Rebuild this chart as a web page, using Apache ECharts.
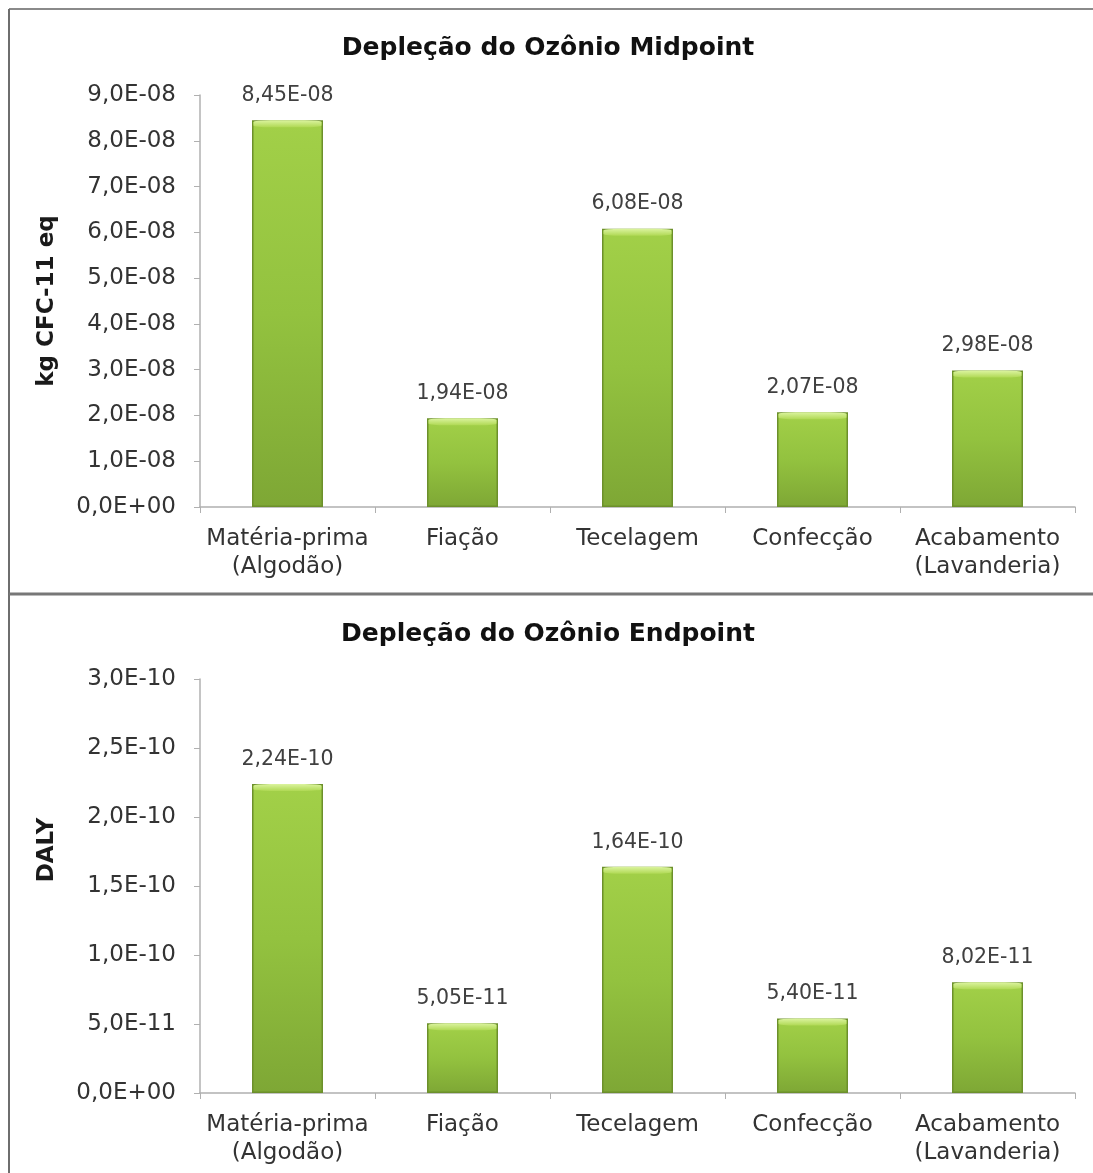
<!DOCTYPE html>
<html>
<head>
<meta charset="utf-8">
<script src="https://cdn.jsdelivr.net/npm/echarts@6/dist/echarts.min.js"></script>
<style>
  html, body { margin: 0; padding: 0; background: #ffffff; }
  #chart { width: 1093px; height: 1173px; }
</style>
</head>
<body>
<div id="chart"></div>
<script>
// Life-cycle stages of the garment
const categories = ['Matéria-prima\n(Algodão)', 'Fiação', 'Tecelagem', 'Confecção', 'Acabamento\n(Lavanderia)'];
// Ozone depletion, midpoint (kg CFC-11 eq)
const midpointValues = [8.45e-8, 1.94e-8, 6.08e-8, 2.07e-8, 2.98e-8];
// Ozone depletion, endpoint (DALY)
const endpointValues = [2.24e-10, 5.05e-11, 1.64e-10, 5.40e-11, 8.02e-11];

const panelTitles = ['Depleção do Ozônio Midpoint', 'Depleção do Ozônio Endpoint'];
const axisNames = ['kg CFC-11 eq', 'DALY'];
const axisMax = [9e-8, 3e-10];
const axisStep = [1e-8, 5e-11];

// Scientific notation with a decimal comma, e.g. 8,45E-08
function sci(v, digits) {
  if (Math.abs(v) < 1e-30) return (0).toFixed(digits).replace('.', ',') + 'E+00';
  let e = Math.floor(Math.log10(Math.abs(v)) + 1e-9);
  let m = v / Math.pow(10, e);
  let s = m.toFixed(digits);
  if (Math.abs(parseFloat(s)) >= 10) { e += 1; s = (v / Math.pow(10, e)).toFixed(digits); }
  const sign = e < 0 ? '-' : '+';
  return s.replace('.', ',') + 'E' + sign + String(Math.abs(e)).padStart(2, '0');
}

const chart = echarts.init(document.getElementById('chart'), null, { renderer: 'canvas' });

const grids = [
  { left: 200, right: 18, top: 95, height: 412 },
  { left: 200, right: 18, top: 679, height: 414 }
];

const bodyColor = new echarts.graphic.LinearGradient(0, 0, 0, 1, [
  { offset: 0, color: '#a2d048' },
  { offset: 0.5, color: '#93c23f' },
  { offset: 1, color: '#7ea735' }
]);
const capColor = new echarts.graphic.LinearGradient(0, 0, 0, 1, [
  { offset: 0, color: '#dcf4a0' },
  { offset: 1, color: '#b0d955' }
]);

function barSeries(data, idx) {
  return [
    {
      type: 'bar',
      xAxisIndex: idx,
      yAxisIndex: idx,
      data: data,
      barWidth: 71,
      itemStyle: {
        color: bodyColor,
        borderColor: '#6c902b',
        borderWidth: 1.5
      },
      label: {
        show: true,
        position: 'top',
        distance: 14,
        formatter: p => sci(p.value, 2),
        fontFamily: 'DejaVu Sans',
        fontSize: 20.5,
        color: '#404040'
      },
      z: 2
    },
    {
      // light bevel across the top of each column
      type: 'pictorialBar',
      xAxisIndex: idx,
      yAxisIndex: idx,
      data: data,
      symbol: 'roundRect',
      symbolSize: [68, 7],
      symbolPosition: 'end',
      symbolOffset: [0, 0],
      itemStyle: { color: capColor },
      silent: true,
      z: 3
    }
  ];
}

const xAxes = grids.map((g, i) => ({
  type: 'category',
  gridIndex: i,
  data: categories,
  axisLine: { lineStyle: { color: '#b0b0b0', width: 1.5 } },
  axisTick: { show: true, length: 6, lineStyle: { color: '#b0b0b0' } },
  axisLabel: {
    margin: 18,
    fontFamily: 'DejaVu Sans',
    fontSize: 23,
    lineHeight: 28,
    color: '#333333',
    interval: 0
  }
}));

const yAxes = grids.map((g, i) => ({
  type: 'value',
  gridIndex: i,
  min: 0,
  max: axisMax[i],
  interval: axisStep[i],
  name: axisNames[i],
  nameLocation: 'middle',
  nameGap: 141,
  nameTextStyle: {
    fontFamily: 'DejaVu Sans',
    fontWeight: 'bold',
    fontSize: 23,
    color: '#1a1a1a',
    padding: i === 1 ? [0, 0, 0, 72] : 0
  },
  axisLine: { show: true, lineStyle: { color: '#b0b0b0', width: 1.5 } },
  axisTick: { show: true, length: 6, lineStyle: { color: '#b0b0b0' } },
  splitLine: { show: false },
  axisLabel: {
    margin: 24,
    fontFamily: 'DejaVu Sans',
    fontSize: 23,
    color: '#333333',
    formatter: v => sci(v, 1)
  }
}));

chart.setOption({
  backgroundColor: '#ffffff',
  animation: false,
  title: [
    {
      text: panelTitles[0], left: 543, top: 31, textAlign: 'center',
      textStyle: { fontFamily: 'DejaVu Sans', fontWeight: 'bold', fontSize: 25, color: '#111111' }
    },
    {
      text: panelTitles[1], left: 543, top: 617, textAlign: 'center',
      textStyle: { fontFamily: 'DejaVu Sans', fontWeight: 'bold', fontSize: 25, color: '#111111' }
    }
  ],
  grid: grids,
  xAxis: xAxes,
  yAxis: yAxes,
  series: [...barSeries(midpointValues, 0), ...barSeries(endpointValues, 1)],
  graphic: [
    // panel frames
    { type: 'line', shape: { x1: 9, y1: 9, x2: 1093, y2: 9 }, style: { stroke: '#8a8a8a', lineWidth: 2 } },
    { type: 'line', shape: { x1: 9, y1: 9, x2: 9, y2: 1173 }, style: { stroke: '#6e6e6e', lineWidth: 2 } },
    { type: 'line', shape: { x1: 9, y1: 594, x2: 1093, y2: 594 }, style: { stroke: '#777777', lineWidth: 3 } }
  ]
});
</script>
</body>
</html>
